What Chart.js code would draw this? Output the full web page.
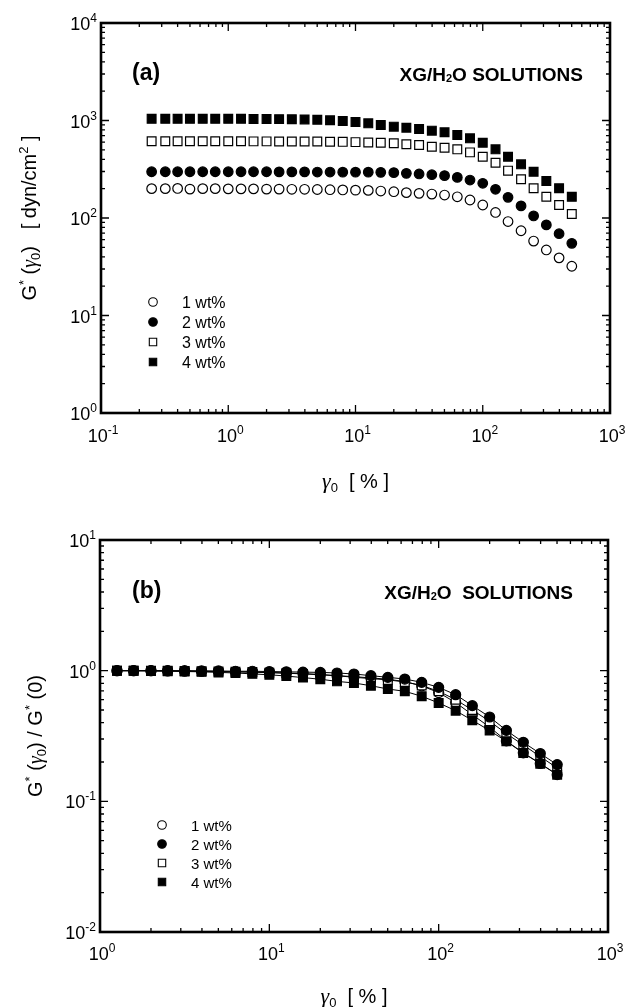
<!DOCTYPE html>
<html lang="en">
<head>
<meta charset="UTF-8" />
<title>XG/H2O solutions - G*(strain)</title>
<script src="https://cdn.jsdelivr.net/npm/chart.js"></script>
<style>
  html, body { margin: 0; padding: 0; background: #fff; }
  canvas { display: block; }
</style>
</head>
<body>
<canvas id="chartA" width="625" height="503"></canvas>
<canvas id="chartB" width="625" height="504"></canvas>
<script>
// ---- panel (a): G*(gamma0) in dyn/cm2 ----
const strainA = [0.25, 0.32, 0.40, 0.50, 0.63, 0.79, 1.0, 1.26, 1.58, 2.0, 2.51, 3.16, 3.98, 5.01, 6.31, 7.94,
  10, 12.6, 15.8, 20, 25.1, 31.6, 39.8, 50.1, 63.1, 79.4, 100, 126, 158, 200, 251, 316, 398, 501];
const gStar1 = [200, 200, 201, 198, 200, 200, 199, 199, 199, 198, 198, 197, 197, 196, 195, 194, 193, 192,
  189, 186, 182, 179, 176, 172, 165, 153, 136, 114, 92, 74, 58, 47, 39, 32];
const gStar2 = [298, 298, 298, 298, 298, 298, 298, 298, 298, 298, 297, 297, 297, 296, 296, 295, 295, 295,
  294, 292, 287, 283, 278, 272, 261, 245, 227, 197, 163, 133, 105, 85, 69, 55];
const gStar3 = [612, 612, 612, 612, 612, 612, 612, 612, 611, 611, 610, 610, 609, 608, 606, 604, 600, 596,
  592, 584, 570, 561, 538, 526, 506, 471, 425, 369, 306, 250, 202, 165, 136, 110];
const gStar4 = [1040, 1040, 1040, 1040, 1040, 1040, 1040, 1040, 1038, 1036, 1033, 1030, 1025, 1018, 1005, 990, 965, 935,
  899, 865, 844, 818, 787, 757, 710, 656, 592, 506, 425, 355, 298, 240, 202, 165];

// ---- panel (b): G*(gamma0)/G*(0) ----
const strainB = [1.26, 1.58, 2.0, 2.51, 3.16, 3.98, 5.01, 6.31, 7.94, 10, 12.6, 15.8, 20,
  25.1, 31.6, 39.8, 50.1, 63.1, 79.4, 100, 126, 158, 200, 251, 316, 398, 501];
const ratio1 = [1.0, 1.0, 1.0, 0.995, 0.99, 0.99, 0.985, 0.98, 0.975, 0.97, 0.96, 0.95, 0.935,
  0.915, 0.90, 0.88, 0.86, 0.825, 0.765, 0.68, 0.57, 0.46, 0.37, 0.29, 0.235, 0.195, 0.16];
const ratio2 = [1.0, 1.0, 1.0, 1.0, 1.0, 0.995, 0.995, 0.99, 0.99, 0.985, 0.98, 0.975, 0.97,
  0.96, 0.943, 0.916, 0.889, 0.863, 0.814, 0.745, 0.655, 0.54, 0.442, 0.349, 0.283, 0.232, 0.191];
const ratio3 = [1.0, 1.0, 1.0, 1.0, 0.995, 0.99, 0.985, 0.98, 0.975, 0.965, 0.955, 0.945, 0.93,
  0.915, 0.89, 0.87, 0.85, 0.82, 0.77, 0.695, 0.60, 0.50, 0.41, 0.33, 0.27, 0.22, 0.18];
const ratio4 = [1.0, 1.0, 0.995, 0.99, 0.985, 0.98, 0.97, 0.96, 0.945, 0.93, 0.91, 0.885, 0.86,
  0.828, 0.805, 0.767, 0.724, 0.695, 0.637, 0.566, 0.494, 0.417, 0.348, 0.288, 0.234, 0.194, 0.16];

const seriesLabels = ['1 wt%', '2 wt%', '3 wt%', '4 wt%'];
const xDecadesA = [0.1, 1, 10, 100, 1000];
const xExpA = ['-1', '0', '1', '2', '3'];
const yDecadesA = [1, 10, 100, 1000, 10000];
const yExpA = ['0', '1', '2', '3', '4'];
const xDecadesB = [1, 10, 100, 1000];
const xExpB = ['0', '1', '2', '3'];
const yDecadesB = [0.01, 0.1, 1, 10];
const yExpB = ['-2', '-1', '0', '1'];

const SANS = '"Liberation Sans", Arial, sans-serif';
const SERIF = '"Liberation Serif", "Times New Roman", serif';
const markers = [
  { style: 'circle', fill: '#fff' },
  { style: 'circle', fill: '#000' },
  { style: 'rect', fill: '#fff' },
  { style: 'rect', fill: '#000' }
];

function richText(ctx, parts, x, y, align) {
  let w = 0;
  parts.forEach(p => { ctx.font = p[1]; w += ctx.measureText(p[0]).width; });
  let cx = align === 'center' ? x - w / 2 : align === 'right' ? x - w : x;
  parts.forEach(p => {
    ctx.font = p[1];
    ctx.fillText(p[0], cx, y + (p[2] || 0));
    cx += ctx.measureText(p[0]).width;
  });
}

function powLabel(exp) {
  return [['10', '18px ' + SANS], [exp, '12px ' + SANS, -8]];
}

function drawMarker(ctx, m, x, y, r) {
  ctx.beginPath();
  if (m.style === 'circle') ctx.arc(x, y, r, 0, Math.PI * 2);
  else ctx.rect(x - r, y - r, 2 * r, 2 * r);
  ctx.fillStyle = m.fill;
  ctx.fill();
  ctx.lineWidth = 1.1;
  ctx.strokeStyle = '#000';
  ctx.stroke();
}

function decorPlugin(cfg) {
  return {
    id: 'decor',
    afterDraw(chart) {
      const { ctx, chartArea: a, scales } = chart;
      const sx = scales.x, sy = scales.y;
      ctx.save();
      ctx.strokeStyle = '#000';
      ctx.fillStyle = '#000';
      ctx.lineWidth = 1.3;

      // inward ticks on all four sides
      ctx.beginPath();
      cfg.xDecades.forEach((d, i) => {
        const last = i === cfg.xDecades.length - 1;
        for (let m = 1; m <= (last ? 1 : 9); m++) {
          const px = sx.getPixelForValue(d * m);
          const len = m === 1 ? 8 : 4;
          ctx.moveTo(px, a.bottom); ctx.lineTo(px, a.bottom - len);
          ctx.moveTo(px, a.top); ctx.lineTo(px, a.top + len);
        }
      });
      cfg.yDecades.forEach((d, i) => {
        const last = i === cfg.yDecades.length - 1;
        for (let m = 1; m <= (last ? 1 : 9); m++) {
          const py = sy.getPixelForValue(d * m);
          const len = m === 1 ? 8 : 4;
          ctx.moveTo(a.left, py); ctx.lineTo(a.left + len, py);
          ctx.moveTo(a.right, py); ctx.lineTo(a.right - len, py);
        }
      });
      ctx.stroke();

      // frame
      ctx.lineWidth = 2.6;
      ctx.strokeRect(a.left, a.top, a.right - a.left, a.bottom - a.top);

      // tick labels
      ctx.textBaseline = 'alphabetic';
      cfg.xDecades.forEach((d, i) => {
        richText(ctx, powLabel(cfg.xExp[i]), sx.getPixelForValue(d) + 2, a.bottom + cfg.xLabelDy, 'center');
      });
      cfg.yDecades.forEach((d, i) => {
        richText(ctx, powLabel(cfg.yExp[i]), a.left - 4, sy.getPixelForValue(d) + 7, 'right');
      });

      // panel tag and title
      ctx.font = 'bold 23px ' + SANS;
      ctx.fillText(cfg.tag, 132, cfg.tagY);
      richText(ctx, [
        ['XG/H', 'bold 19px ' + SANS],
        ['2', 'bold 11px ' + SANS, 1],
        ['O' + cfg.gap + 'SOLUTIONS', 'bold 19px ' + SANS]
      ], cfg.titleRight, cfg.tagY + 1, 'right');

      // legend
      seriesLabels.forEach((lab, i) => {
        const yy = cfg.legY + i * cfg.legStep;
        drawMarker(ctx, markers[i], cfg.legX, yy, markers[i].style === 'circle' ? 4.3 : 3.7);
        ctx.fillStyle = '#000';
        ctx.font = cfg.legFont + 'px ' + SANS;
        ctx.fillText(lab, cfg.legX + 29, yy + 6);
      });

      // x title
      richText(ctx, [
        ['γ', 'italic 22px ' + SERIF],
        ['0', '13px ' + SANS, 4],
        ['  [ % ]', '20px ' + SANS]
      ], (a.left + a.right) / 2, cfg.xTitleY, 'center');

      // y title
      ctx.save();
      ctx.translate(cfg.yTitleX, (a.top + a.bottom) / 2);
      ctx.rotate(-Math.PI / 2);
      richText(ctx, cfg.yTitle, 0, 7, 'center');
      ctx.restore();

      ctx.restore();
    }
  };
}

function makeDatasets(xs, ysList, showLine, radii) {
  return ysList.map((ys, i) => ({
    label: seriesLabels[i],
    data: xs.map((x, k) => ({ x: x, y: ys[k] })),
    showLine: showLine,
    borderColor: '#000',
    borderWidth: 1,
    pointStyle: markers[i].style,
    pointRadius: markers[i].style === 'circle' ? radii[0] : radii[1],
    pointBackgroundColor: markers[i].fill,
    pointBorderColor: '#000',
    pointBorderWidth: 1.2,
    order: i === 1 ? 0 : 4 - i
  }));
}

function makeChart(id, datasets, xr, yr, padding, cfg) {
  return new Chart(document.getElementById(id), {
    type: 'scatter',
    data: { datasets: datasets },
    options: {
      responsive: false,
      animation: false,
      layout: { padding: padding },
      plugins: { legend: { display: false }, tooltip: { enabled: false } },
      scales: {
        x: { type: 'logarithmic', min: xr[0], max: xr[1], display: false },
        y: { type: 'logarithmic', min: yr[0], max: yr[1], display: false }
      }
    },
    plugins: [decorPlugin(cfg)]
  });
}

const yTitleFont = '20px ' + SANS;
const yTitleSmall = '13px ' + SANS;

makeChart('chartA',
  makeDatasets(strainA, [gStar1, gStar2, gStar3, gStar4], false, [4.8, 6.2]),
  [0.1, 1000], [1, 10000],
  { left: 101, right: 15, top: 23, bottom: 90 },
  {
    xDecades: xDecadesA, xExp: xExpA, yDecades: yDecadesA, yExp: yExpA,
    xLabelDy: 29, tag: '(a)', tagY: 80, gap: ' ', titleRight: 583,
    legX: 153, legY: 302, legStep: 20, legFont: 16,
    xTitleY: 488, yTitleX: 29,
    yTitle: [
      ['G', yTitleFont], ['*', yTitleSmall, -8], [' (', yTitleFont],
      ['γ', 'italic 20px ' + SERIF], ['0', yTitleSmall, 4], [')', yTitleFont],
      ['   [ dyn/cm', yTitleFont], ['2', yTitleSmall, -8], [' ]', yTitleFont]
    ]
  });

makeChart('chartB',
  makeDatasets(strainB, [ratio1, ratio2, ratio3, ratio4], true, [5, 6.2]),
  [1, 1000], [0.01, 10],
  { left: 100, right: 17, top: 37, bottom: 75 },
  {
    xDecades: xDecadesB, xExp: xExpB, yDecades: yDecadesB, yExp: yExpB,
    xLabelDy: 28, tag: '(b)', tagY: 95, gap: '  ', titleRight: 573,
    legX: 162, legY: 322, legStep: 19, legFont: 15,
    xTitleY: 500, yTitleX: 35,
    yTitle: [
      ['G', yTitleFont], ['*', yTitleSmall, -8], [' (', yTitleFont],
      ['γ', 'italic 20px ' + SERIF], ['0', yTitleSmall, 4], [')', yTitleFont],
      [' / G', yTitleFont], ['*', yTitleSmall, -8], [' (0)', yTitleFont]
    ]
  });
</script>
</body>
</html>
